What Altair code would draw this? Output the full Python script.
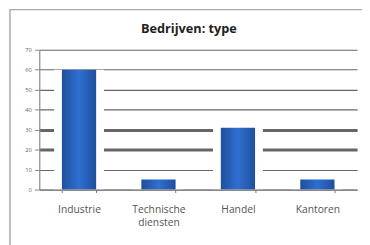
import altair as alt
import pandas as pd

title_text = "Bedrijven: type"
categories = ["Industrie", "Technische diensten", "Handel", "Kantoren"]
values = [60, 5, 31, 5]
y_ticks = [0, 10, 20, 30, 40, 50, 60, 70]

df = pd.DataFrame({"cat": categories, "val": values})

x_enc = alt.X("cat:N", sort=categories, title=None,
              scale=alt.Scale(paddingInner=0.57, paddingOuter=0.285),
              axis=alt.Axis(labelAngle=0, labelFont="Open Sans", labelFontSize=10.5,
                            labelColor="#555", labelPadding=12, labelLineHeight=14,
                            labelExpr="split(datum.label, ' ')",
                            tickBand="extent", tickSize=3, tickColor="#777",
                            domainColor="#888", domainWidth=1.2, zindex=1))
y_enc = alt.Y("val:Q", title=None,
              scale=alt.Scale(domain=[0, 70]),
              axis=alt.Axis(values=y_ticks, labelFont="Open Sans", labelFontSize=6,
                            labelColor="#666", labelPadding=3, tickSize=5,
                            tickColor="#888", domainColor="#888", domainWidth=1.2,
                            grid=True, gridColor="#666",
                            gridWidth={"expr": "datum.value == 20 || datum.value == 30 ? 3 : 1.2"}))

border = alt.Chart(pd.DataFrame({"a": [0]})).mark_rect(
    fill=None, filled=False, stroke="#aaa", strokeWidth=1.5, clip=False
).encode(x=alt.value(-30), x2=alt.value(340), y=alt.value(-41), y2=alt.value(210))

title = alt.Chart(pd.DataFrame({"t": [title_text]})).mark_text(
    font="Open Sans", fontSize=13, fontWeight="bold", color="#222",
    align="center", baseline="middle"
).encode(x=alt.value(153), y=alt.value(-21), text="t:N")

white = alt.Chart(df).mark_bar(size=51, color="white").encode(x=x_enc, y=y_enc)

blue = alt.Chart(df).mark_bar(
    size=35,
    color=alt.Gradient(gradient="linear", x1=0, x2=1, y1=0, y2=0,
                       stops=[alt.GradientStop(color="#1f4f9e", offset=0),
                              alt.GradientStop(color="#2f6fd0", offset=0.5),
                              alt.GradientStop(color="#1f4f9e", offset=1)])
).encode(x=x_enc, y=y_enc)

chart = alt.layer(border, title, white, blue).properties(
    width=325, height=143,
    autosize=alt.AutoSizeParams(type="none"),
    padding={"left": 32, "top": 40, "right": 5, "bottom": 54},
).configure_view(stroke=None)

chart.save("out.html", embed_options={"renderer": "svg", "actions": False})
